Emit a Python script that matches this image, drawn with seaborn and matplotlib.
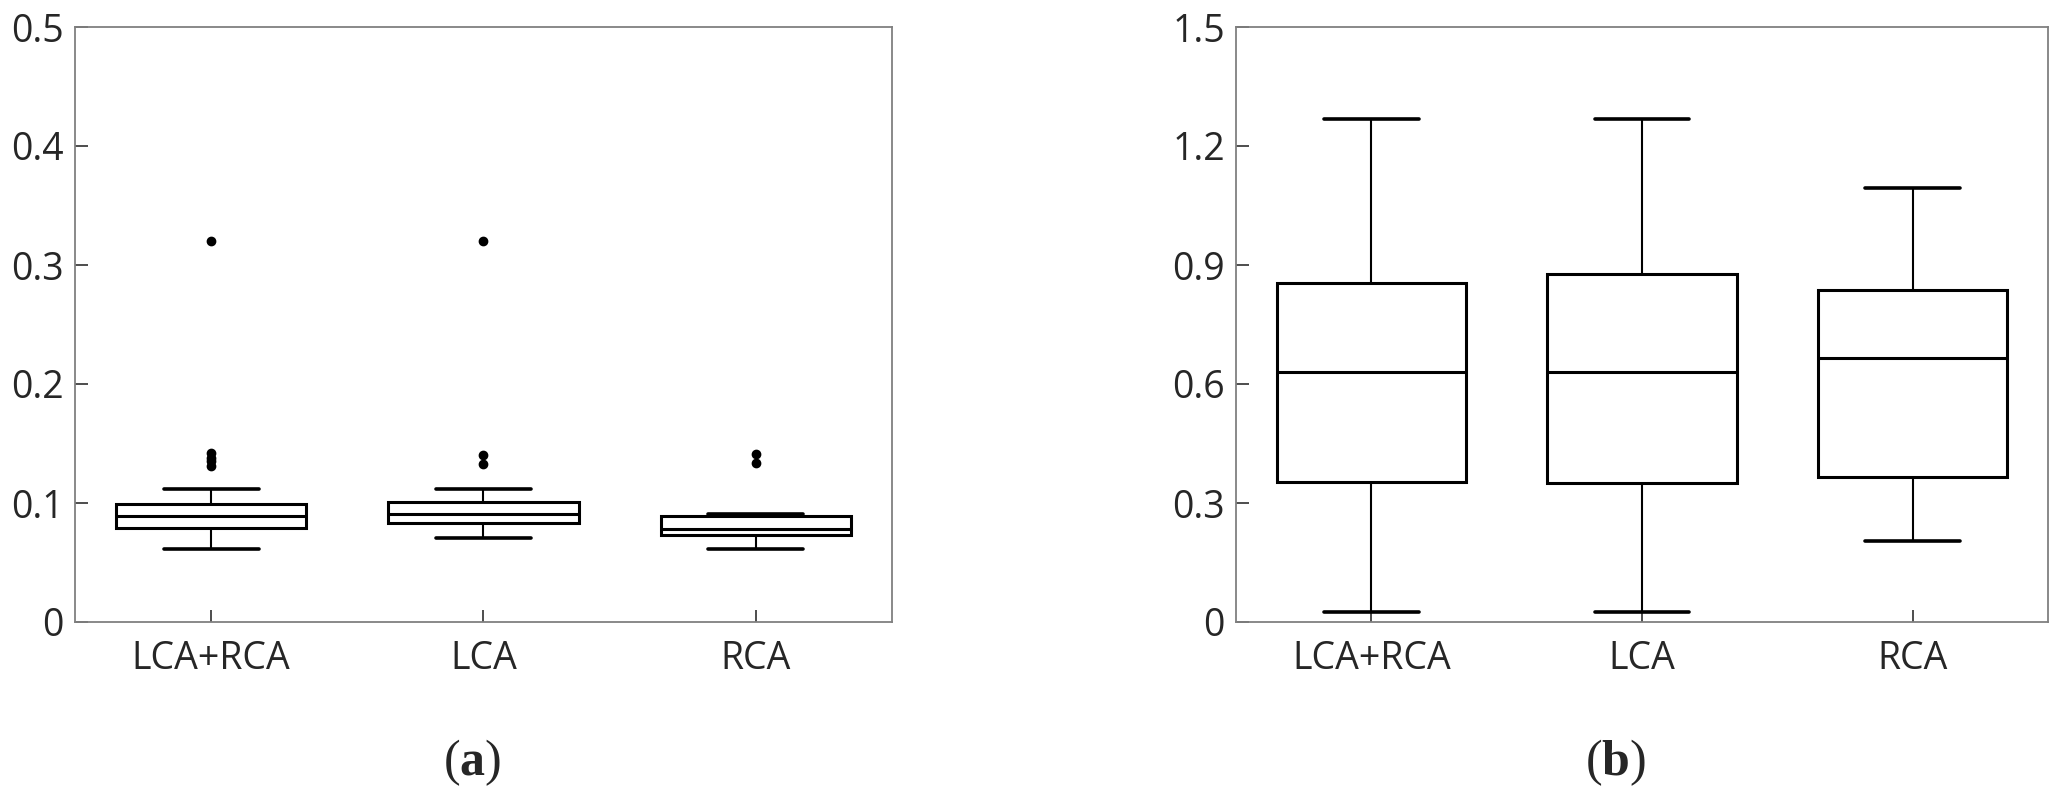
import numpy as np
import pandas as pd
import matplotlib
matplotlib.use("Agg")
import matplotlib.pyplot as plt
import seaborn as sns

# categories
groups = ["LCA+RCA", "LCA", "RCA"]

a_lca_rca = [0.061, 0.066, 0.070, 0.074, 0.077, 0.078, 0.079, 0.081, 0.083, 0.085,
             0.087, 0.088, 0.089, 0.091, 0.093, 0.095, 0.097, 0.098, 0.099, 0.112,
             0.131, 0.135, 0.138, 0.142, 0.320]
a_lca = [0.071, 0.075, 0.078, 0.081, 0.083, 0.085, 0.087, 0.089, 0.091, 0.093,
         0.096, 0.099, 0.101, 0.112, 0.133, 0.140, 0.320]
a_rca = [0.061, 0.066, 0.070, 0.073, 0.075, 0.077, 0.078, 0.081, 0.085, 0.089,
         0.091, 0.134, 0.141]

# (b) values
b_lca_rca = [0.024, 0.21, 0.354, 0.48, 0.629, 0.74, 0.855, 1.02, 1.267]
b_lca = [0.024, 0.19, 0.351, 0.50, 0.629, 0.76, 0.878, 1.05, 1.267]
b_rca = [0.204, 0.29, 0.366, 0.52, 0.665, 0.75, 0.836, 0.96, 1.094]

a_ticks = [0, 0.1, 0.2, 0.3, 0.4, 0.5]
a_ticklabels = ["0", "0.1", "0.2", "0.3", "0.4", "0.5"]
b_ticks = [0, 0.3, 0.6, 0.9, 1.2, 1.5]
b_ticklabels = ["0", "0.3", "0.6", "0.9", "1.2", "1.5"]
panel_labels = ["a", "b"]


def to_long(lists):
    rows = []
    for g, vals in zip(groups, lists):
        rows += [(g, v) for v in vals]
    return pd.DataFrame(rows, columns=["group", "value"])


df_a = to_long([a_lca_rca, a_lca, a_rca])
df_b = to_long([b_lca_rca, b_lca, b_rca])

sns.set_style("white")
plt.rcParams["font.family"] = ["Open Sans", "DejaVu Sans"]
plt.rcParams["mathtext.fontset"] = "custom"
plt.rcParams["mathtext.bf"] = "Liberation Serif:bold"
plt.rcParams["mathtext.rm"] = "Liberation Serif"

fig = plt.figure(figsize=(20.69, 8), dpi=100)
ax_a = fig.add_axes([75 / 2069, 178 / 800, 817 / 2069, 595 / 800])
ax_b = fig.add_axes([1236 / 2069, 178 / 800, 812 / 2069, 595 / 800])

box_kw = dict(
    order=groups, width=0.7, color="white", linecolor="black", saturation=1,
    boxprops=dict(linewidth=2.2, facecolor="white", edgecolor="black"),
    medianprops=dict(linewidth=2.2, color="black"),
    whiskerprops=dict(linewidth=1.5, color="black"),
    capprops=dict(linewidth=2.6, color="black"),
    flierprops=dict(marker="o", markerfacecolor="black", markeredgecolor="black",
                    markersize=6),
)

sns.boxplot(data=df_a, x="group", y="value", ax=ax_a, **box_kw)
sns.boxplot(data=df_b, x="group", y="value", ax=ax_b, **box_kw)

for ax, ticks, labels, top in [(ax_a, a_ticks, a_ticklabels, 0.5),
                               (ax_b, b_ticks, b_ticklabels, 1.5)]:
    ax.set_ylim(0, top)
    ax.set_xlim(-0.5, 2.5)
    ax.set_yticks(ticks)
    ax.set_yticklabels(labels)
    ax.set_xlabel("")
    ax.set_ylabel("")
    for s in ax.spines.values():
        s.set_visible(True)
        s.set_color("#808080")
        s.set_linewidth(1.3)
    ax.tick_params(axis="both", direction="in", length=9, width=1.4,
                   color="#4d4d4d", labelsize=27, labelcolor="#262626",
                   bottom=True, left=True, top=False, right=False)
    ax.tick_params(axis="x", pad=13)
    ax.tick_params(axis="y", pad=8)

for lab, xc in zip(panel_labels, [472 / 2069, 1615 / 2069]):
    fig.text(xc, 37 / 800, "($\\mathbf{" + lab + "}$)", ha="center", va="center",
             fontsize=36, family="Liberation Serif")

fig.savefig("out.png", dpi=100)
